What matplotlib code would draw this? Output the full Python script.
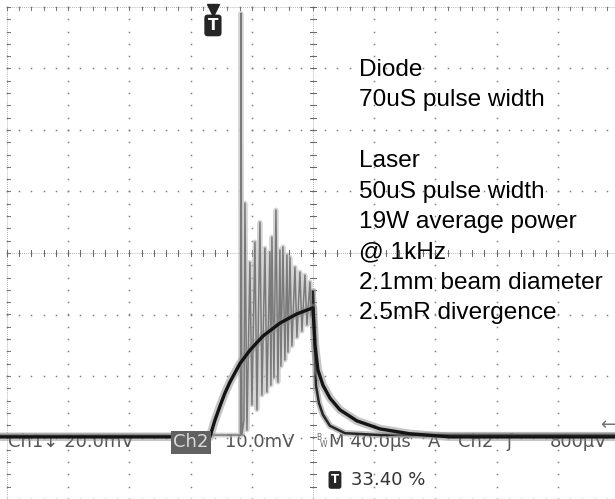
import numpy as np
import matplotlib.pyplot as plt

# Scope settings (time axis relative to trigger, vertical in divisions)
us_per_div = 40.0
t_center = 65.4        # screen centre, us after trigger
px_per_div_x = 61.2
px_per_div_y = 61.5

# Ch2 - diode drive (smooth trace), t [us], level [div]
diode_t = [-139.0, -2.0, 1.3, 4.6, 7.8, 11.1, 17.6, 24.2, 32.7, 43.8, 54.9, 65.4,
           66.7, 68.6, 71.9, 76.5, 83.0, 94.1, 109.2, 128.8, 154.9, 263.0]
diode_v = [-2.99, -2.99, -2.72, -2.49, -2.28, -2.10, -1.80, -1.58, -1.35, -1.14, -0.99, -0.89,
           -1.50, -1.90, -2.15, -2.36, -2.55, -2.73, -2.86, -2.94, -2.99, -2.99]

# Ch1 - laser output (noisy trace)
laser_t = [-139.0, 17.97, 18.30, 18.95, 20.26, 20.92, 22.22, 24.18, 25.49, 27.45, 28.76,
           30.72, 32.03, 33.99, 35.29, 37.25, 37.91, 38.56, 39.87, 41.18, 42.48, 43.79,
           44.44, 45.75, 47.06, 48.37, 49.02, 50.33, 51.63, 53.60, 54.90, 56.86, 58.17,
           60.13, 61.44, 63.40, 64.05, 65.36]
laser_v = [-2.96, -2.96, 3.90, -2.96, -2.72, 0.81, -2.88, -0.15, -2.47, 0.18, -2.55,
           0.50, -2.31, 0.08, -2.26, 0.02, -2.15, 0.26, -2.03, 0.70, -2.10, 0.05,
           -1.84, 0.10, -1.74, -0.03, -1.61, -0.07, -1.51, -0.23, -1.37, -0.31, -1.27,
           -0.36, -1.17, -0.47, -1.02, -0.63]
# laser fall after the pulse
tail_t = [65.36, 66.01, 67.32, 69.28, 71.90, 76.47, 86.28, 109.15, 263.0]
tail_v = [-0.63, -1.09, -2.15, -2.44, -2.63, -2.81, -2.93, -2.96, -2.96]

notes = ["Diode", "70uS pulse width", "", "Laser", "50uS pulse width",
         "19W average power", "@ 1kHz", "2.1mm beam diameter", "2.5mR divergence"]

trig_pct = "33.40 %"
trig_level_div = -2.80

# figure
fig = plt.figure(figsize=(6.15, 4.99), dpi=100)
ax = fig.add_axes([0, 0, 1, 1])
ax.set_axis_off()

us_per_px = us_per_div / px_per_div_x
left_border = t_center - 5 * us_per_div
x0 = left_border - 7 * us_per_px
x1 = x0 + 615 * us_per_px
ax.set_xlim(x0, x1)
ax.set_ylim(-4.0, 4.0 + 7 / px_per_div_y)

# graticule
gcol = '0.5'
minor = 0.2
for k in range(11):
    xg = left_border + k * us_per_div
    ys = np.arange(-4, 4.001, minor)
    ax.plot(np.full_like(ys, xg), ys, ls='none', marker='s', ms=1.1, mfc=gcol, mec='none', zorder=1)
for j in range(9):
    yg = -4 + j
    xs = left_border + np.arange(0, 10.001, minor) * us_per_div
    ax.plot(xs, np.full_like(xs, yg), ls='none', marker='s', ms=1.1, mfc=gcol, mec='none', zorder=1)

# centre axes and border with minor ticks
tick_x = 0.05 * us_per_div
tick_y = 0.05
xc = t_center
ax.plot([left_border, left_border + 10 * us_per_div], [0, 0], color='0.6', lw=0.6, ls=(0, (1, 1.5)), zorder=1)
ax.plot([xc, xc], [-4, 4], color='0.6', lw=0.6, ls=(0, (1, 1.5)), zorder=1)
ax.plot([left_border, left_border + 10 * us_per_div], [4, 4], color='0.6', lw=0.6, ls=(0, (1, 1.5)), zorder=1)
ax.plot([left_border, left_border], [-4, 4], color='0.6', lw=0.6, ls=(0, (1, 1.5)), zorder=1)
for xm in left_border + np.arange(0, 10.001, minor) * us_per_div:
    ax.plot([xm, xm], [-tick_y, tick_y], color='0.4', lw=0.7, zorder=1)
    ax.plot([xm, xm], [4, 4 - tick_y], color='0.45', lw=0.7, zorder=1)
for ym in np.arange(-4, 4.001, minor):
    ax.plot([xc - tick_x, xc + tick_x], [ym, ym], color='0.4', lw=0.7, zorder=1)
    ax.plot([left_border, left_border + tick_x], [ym, ym], color='0.45', lw=0.7, zorder=1)

# readouts (under the traces)
ro = dict(family='DejaVu Sans', fontsize=13, color='0.33', va='center', zorder=2)
yr = -3.08
ax.text(-134.0, yr, "Ch1\u2193 20.0mV", **ro)
ax.text(-26.0, yr, "Ch2", family='DejaVu Sans', fontsize=13, color='0.85', va='center', zorder=6,
        bbox=dict(boxstyle='square,pad=0.12', fc='0.38', ec='none'))
ax.text(7.8, yr, "10.0mV", **ro)
ax.text(67.3, yr + 0.08, "B", family='DejaVu Sans', fontsize=5.5, color='0.42', va='center', zorder=2)
ax.text(70.0, yr - 0.03, "W", family='DejaVu Sans', fontsize=5.5, color='0.42', va='center', zorder=2)
ax.text(75.8, yr, "M 40.0\u00b5s", **ro)
ax.text(140.5, yr, "A", **ro)
ax.text(160.1, yr, "Ch2", **ro)
ax.text(191.5, yr, "\u0283", **ro)
ax.text(220.3, yr, "800\u00b5V", **ro)

# traces
ax.plot(laser_t, laser_v, color='0.72', lw=3.5, alpha=0.6, zorder=3)
ax.plot(laser_t, laser_v, color='0.48', lw=1.1, zorder=4)
ax.plot(tail_t, tail_v, color='0.6', lw=4.5, alpha=0.6, zorder=3)
ax.plot(tail_t, tail_v, color='0.15', lw=1.8, zorder=4)
ax.plot(diode_t, diode_v, color='0.55', lw=6.0, alpha=0.5, zorder=4)
ax.plot(diode_t, diode_v, color='0.08', lw=2.4, zorder=5)

# trigger markers
ax.plot([0], [3.95], marker='v', ms=8, color='0.15', zorder=6)
ax.text(0, 3.70, "T", family='DejaVu Sans', fontsize=11, fontweight='bold', color='white',
        ha='center', va='center', zorder=6,
        bbox=dict(boxstyle='round,pad=0.22', fc='0.15', ec='none'))
ax.text(x1, trig_level_div, "\u2190", family='DejaVu Sans', fontsize=13, color='0.45',
        ha='right', va='center', zorder=6)
ax.text(77.1, -3.69, "T", family='DejaVu Sans', fontsize=8.5, fontweight='bold', color='white',
        va='center', zorder=6, bbox=dict(boxstyle='round,pad=0.2', fc='0.15', ec='none'))
ax.text(90.2, -3.69, trig_pct, family='DejaVu Sans', fontsize=13, color='0.2', va='center', zorder=6)

# annotation block
y_top = 2.88
for i, line in enumerate(notes):
    ax.text(95.5, y_top - i * 0.495, line, family='Liberation Sans', fontsize=17.6,
            color='black', va='baseline', zorder=7)

fig.savefig("out.png", dpi=100)
